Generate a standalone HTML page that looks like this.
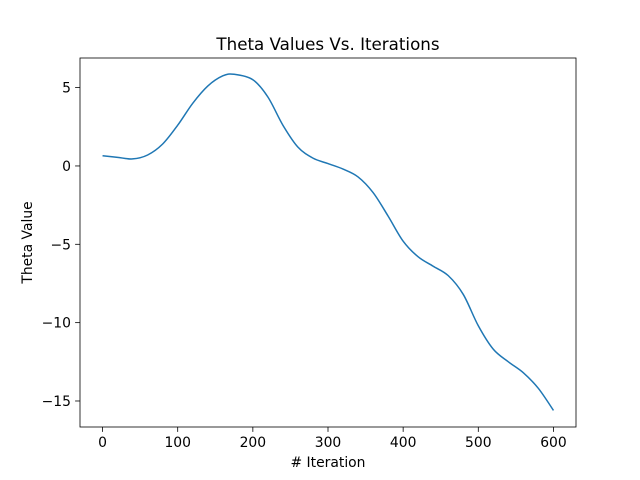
<!DOCTYPE html>
<html><head><meta charset="utf-8"><style>
body{margin:0;background:#fff;}
svg{display:block;font-family:"DejaVu Sans","Liberation Sans",sans-serif;}
</style></head><body>
<svg id="chart" width="640" height="480">
<rect width="640" height="480" fill="#fff"/>
<g id="plot"></g>
</svg>
<script>
const iterations=[0,20,40,60,80,100,120,140,160,175,200,220,240,260,280,300,320,340,360,380,400,420,440,460,480,500,520,540,560,580,600];
const thetaValues=[0.65,0.55,0.45,0.7,1.4,2.6,4.0,5.1,5.75,5.85,5.5,4.4,2.6,1.2,0.5,0.15,-0.2,-0.7,-1.7,-3.2,-4.8,-5.8,-6.4,-7.0,-8.2,-10.2,-11.7,-12.5,-13.2,-14.2,-15.6];
const xTicks=[0,100,200,300,400,500,600];
const yTicks=[5,0,-5,-10,-15];
const L=80,R=576,T=58,B=427;
const xMin=-30,xMax=630,yMin=-16.66,yMax=6.89;
const sx=v=>L+(v-xMin)/(xMax-xMin)*(R-L);
const sy=v=>B-(v-yMin)/(yMax-yMin)*(B-T);
const NS="http://www.w3.org/2000/svg";
const g=document.getElementById('plot');
function mk(t,a,txt){const e=document.createElementNS(NS,t);for(const k in a)e.setAttribute(k,a[k]);if(txt!==undefined)e.textContent=txt;g.appendChild(e);return e;}
const P=iterations.map((x,i)=>[sx(x),sy(thetaValues[i])]);
let d=`M${P[0][0]},${P[0][1]}`;
for(let i=0;i<P.length-1;i++){const p0=P[Math.max(0,i-1)],p1=P[i],p2=P[i+1],p3=P[Math.min(P.length-1,i+2)];
d+=` C${p1[0]+(p2[0]-p0[0])/6},${p1[1]+(p2[1]-p0[1])/6} ${p2[0]-(p3[0]-p1[0])/6},${p2[1]-(p3[1]-p1[1])/6} ${p2[0]},${p2[1]}`;}
const line=mk('path',{d:d,fill:'none',stroke:'#1f77b4','stroke-width':1.5});


const fr=mk('rect',{x:L,y:T,width:R-L,height:B-T,fill:'none',stroke:'#000','stroke-width':0.8});


xTicks.forEach(v=>{const x=sx(v);mk('line',{x1:x,x2:x,y1:B,y2:B+4.9,stroke:'#000','stroke-width':0.8});
const t=mk('text',{x:x,y:B+20,'text-anchor':'middle','font-size':13.9},v);

});
yTicks.forEach(v=>{const y=sy(v);mk('line',{x1:L-4.9,x2:L,y1:y,y2:y,stroke:'#000','stroke-width':0.8});
const t=mk('text',{x:L-9,y:y+5,'text-anchor':'end','font-size':13.9},v<0?'\u2212'+(-v):v);

});
const ti=mk('text',{x:(L+R)/2,y:50,'text-anchor':'middle','font-size':16.7},'Theta Values Vs. Iterations');


const xl=mk('text',{x:(L+R)/2,y:467,'text-anchor':'middle','font-size':13.9},'# Iteration');


const yl=mk('text',{x:0,y:0,'text-anchor':'middle','font-size':13.9,transform:`translate(32,${(T+B)/2}) rotate(-90)`},'Theta Value');


</script>
</body></html>
